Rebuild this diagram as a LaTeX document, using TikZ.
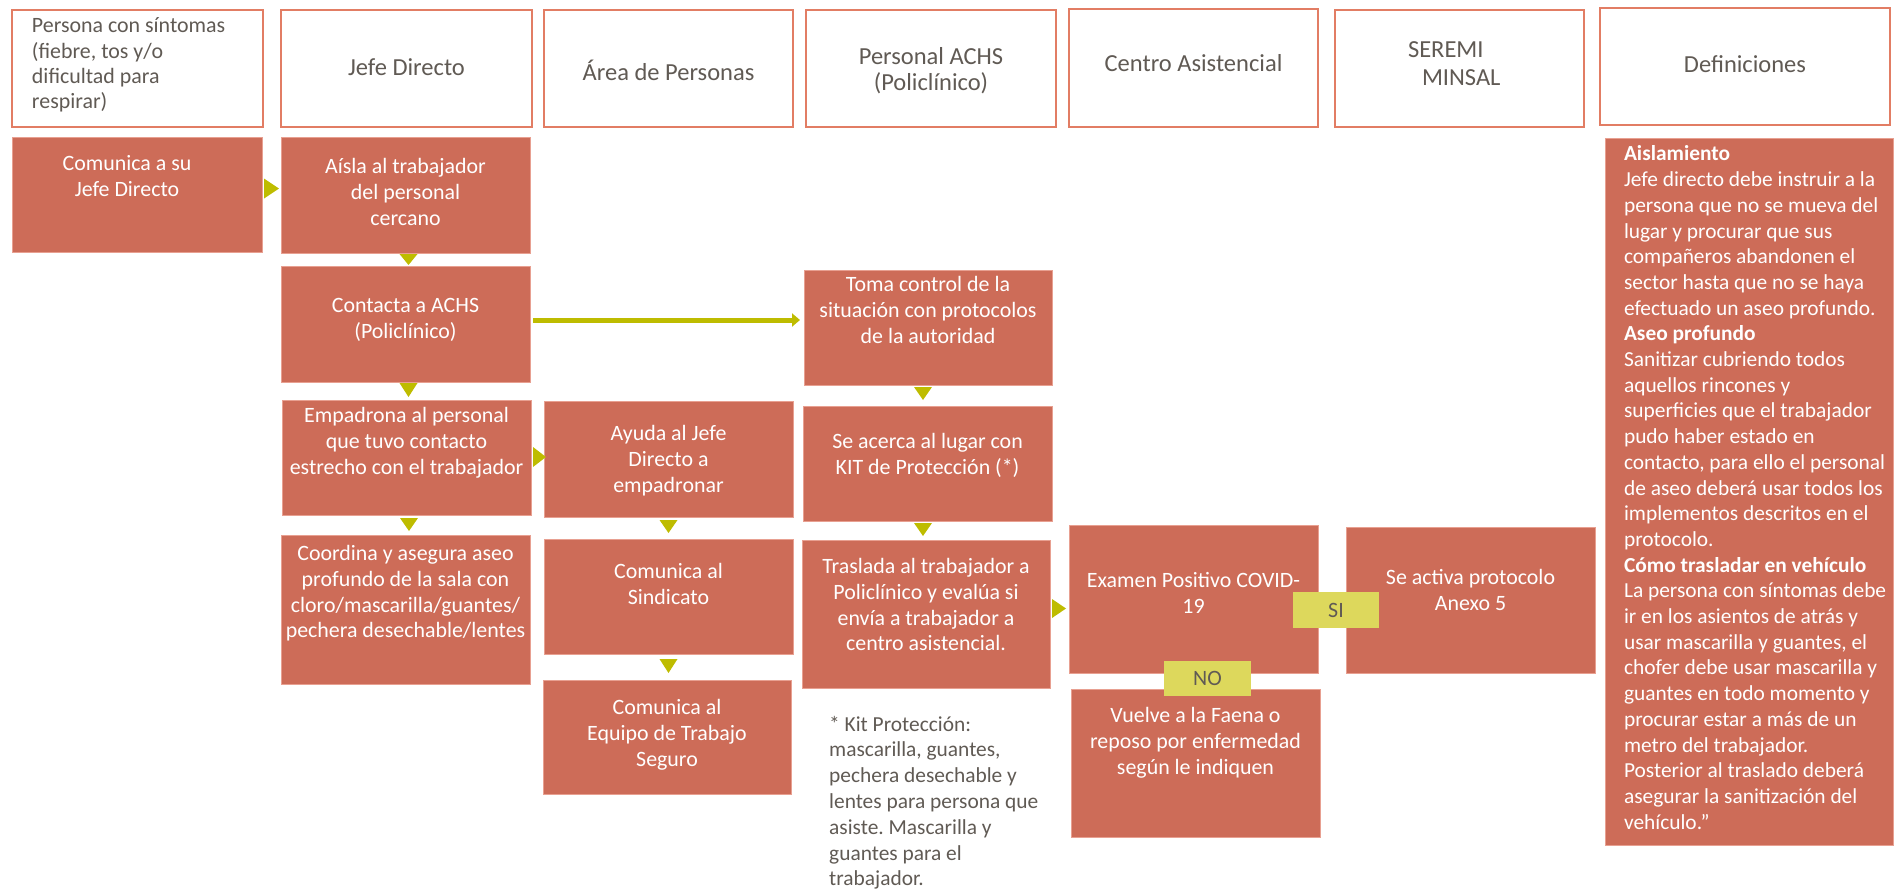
\documentclass[tikz,border=0pt]{standalone}
\usepackage{fontspec}
\setmainfont{Carlito}
\frenchspacing
\usetikzlibrary{calc,arrows.meta}
\definecolor{boxc}{RGB}{205,108,88}
\definecolor{hdrc}{RGB}{226,125,100}
\definecolor{txtg}{RGB}{96,90,84}
\definecolor{arrc}{RGB}{190,188,0}
\definecolor{lblc}{RGB}{221,216,92}
\definecolor{edgec}{RGB}{232,160,145}
\newcommand\fsA{\fontsize{21.9pt}{25.6pt}\selectfont}
\newcommand\fsD{\fontsize{21.4pt}{25.6pt}\selectfont}
\newcommand\fsH{\fontsize{24.5pt}{25pt}\selectfont}
\newcommand\bxt[4]{\parbox[c][#2pt][t]{#1pt}{\centering\vspace*{#3pt}\strut #4}}
\begin{document}
\begin{tikzpicture}[x=1pt,y=-1pt,
  hdr/.style={draw=hdrc, line width=1.4pt, fill=white, anchor=north west, inner sep=0pt, outer sep=0pt, text=txtg},
  fbx/.style={fill=boxc, draw=edgec, line width=0.6pt, anchor=north west, inner sep=0pt, outer sep=0pt, text=white, font=\fsA},
  lbl/.style={fill=lblc, anchor=north west, inner sep=0pt, outer sep=0pt, text=txtg, font=\fsA},
  tri/.style={fill=arrc},
  link/.style={draw=arrc, line width=5pt, -{Triangle[length=8pt,width=13pt]}}]
\useasboundingbox (0,0) rectangle (1900,889);

% headers
\node[hdr, font=\fsA] (h1) at (12,10) {\parbox[c][117pt][t]{251pt}{\raggedright\leftskip=20pt\baselineskip=25.3pt\vspace*{5pt}\strut Persona con síntomas\\(fiebre, tos y/o\\dificultad para\\respirar)}};
\node[hdr, font=\fsH] (h2) at (281,10) {\bxt{251}{117}{48}{Jefe Directo}};
\node[hdr, font=\fsH] (h3) at (544,10) {\bxt{249}{117}{50}{Área de Personas}};
\node[hdr, font=\fsH] (h4) at (806,10) {\bxt{250}{117}{37}{Personal ACHS\\(Policlínico)}};
\node[hdr, font=\fsH] (h5) at (1069,9) {\bxt{249}{118}{45}{Centro Asistencial}};
\node[hdr, font=\fsH] (h6) at (1335,10) {\parbox[c][117pt][t]{249pt}{\raggedright\baselineskip=28pt\vspace*{30pt}\strut\hspace*{73pt}SEREMI\\\hspace*{87pt}MINSAL}};
\node[hdr, font=\fsH] (h7) at (1600,8) {\bxt{290}{117}{47}{Definiciones}};

% process boxes
\node[fbx] (comunica) at (12,137) {\parbox[c][115pt][t]{250pt}{\centering\rightskip=20pt plus 1fil\vspace*{16pt}\strut Comunica a su\\Jefe Directo}};
\node[fbx] (aisla) at (281,137) {\bxt{249}{116}{19}{Aísla al trabajador\\del personal\\cercano}};
\node[fbx] (contacta) at (281,266) {\bxt{249}{116}{29}{Contacta a ACHS\\(Policlínico)}};
\node[fbx] (empadrona) at (282,400) {\bxt{249}{115}{5}{Empadrona al personal\\que tuvo contacto\\estrecho con el trabajador}};
\node[fbx] (coordina) at (281,535) {\bxt{249}{149}{8}{Coordina y asegura aseo\\profundo de la sala con\\cloro/mascarilla/guantes/\\pechera desechable/lentes}};
\node[fbx] (ayuda) at (544,401) {\bxt{249}{116}{22}{Ayuda al Jefe\\Directo a\\empadronar}};
\node[fbx] (sindicato) at (544,539) {\bxt{249}{115}{22}{Comunica al\\Sindicato}};
\node[fbx] (equipo) at (543,680) {\bxt{248}{114}{17}{Comunica al\\Equipo de Trabajo\\Seguro}};
\node[fbx] (toma) at (804,270) {\bxt{248}{115}{4}{Toma control de la\\situación con protocolos\\de la autoridad}};
\node[fbx] (seacerca) at (803,406) {\bxt{249}{115}{25}{Se acerca al lugar con\\KIT de Protección (*)}};
\node[fbx] (traslada) at (802,540) {\bxt{248}{148}{16}{Traslada al trabajador a\\Policlínico y evalúa si\\envía a trabajador a\\centro asistencial.}};
\node[fbx] (examen) at (1069,525) {\bxt{249}{148}{45}{Examen Positivo COVID-\\19}};
\node[fbx] (seactiva) at (1346,527) {\bxt{249}{146}{40}{Se activa protocolo\\Anexo 5}};
\node[fbx] (vuelve) at (1071,689) {\bxt{249}{148}{16}{Vuelve a la Faena o\\reposo por enfermedad\\según le indiquen}};
\node[fbx, font=\fsD] (defs) at (1605,138) {\parbox[c][707pt][t]{288pt}{\raggedright\leftskip=19pt\baselineskip=25.7pt\vspace*{5pt}\strut\textbf{Aislamiento}\\
Jefe directo debe instruir a la\\
persona que no se mueva del\\
lugar y procurar que sus\\
compañeros abandonen el\\
sector hasta que no se haya\\
efectuado un aseo profundo.\\
\textbf{Aseo profundo}\\
Sanitizar cubriendo todos\\
aquellos rincones y\\
superficies que el trabajador\\
pudo haber estado en\\
contacto, para ello el personal\\
de aseo deberá usar todos los\\
implementos descritos en el\\
protocolo.\\
\textbf{Cómo trasladar en vehículo}\\
La persona con síntomas debe\\
ir en los asientos de atrás y\\
usar mascarilla y guantes, el\\
chofer debe usar mascarilla y\\
guantes en todo momento y\\
procurar estar a más de un\\
metro del trabajador.\\
Posterior al traslado deberá\\
asegurar la sanitización del\\
vehículo.{\char34}}};

% labels
\node[lbl] (si) at (1293,592) {\parbox[c][36pt][c]{86pt}{\centering SI}};
\node[lbl] (no) at (1164,661) {\parbox[c][35pt][c]{87pt}{\centering NO}};

% footnote
\node[anchor=north west, inner sep=0pt, text=txtg, font=\fsD] (kit) at (829,713) {\parbox{250pt}{\raggedright\baselineskip=25.8pt\strut * Kit Protección:\\mascarilla, guantes,\\pechera desechable y\\lentes para persona que\\asiste. Mascarilla y\\guantes para el\\trabajador.}};

% connectors
\fill[tri] ($(comunica.east)+(2,-16)$) -- ($(comunica.east)+(2,4)$) -- ($(comunica.east)+(17,-6)$) -- cycle;
\fill[tri] ($(empadrona.east)+(2,-10.5)$) -- ($(empadrona.east)+(2,9.5)$) -- ($(empadrona.east)+(15,-0.5)$) -- cycle;
\fill[tri] ($(traslada.east)+(2,-15)$) -- ($(traslada.east)+(2,4)$) -- ($(traslada.east)+(16,-5.5)$) -- cycle;
\fill[tri] ($(aisla.south)+(-6,1)$) -- ($(aisla.south)+(12,1)$) -- ($(aisla.south)+(3,12)$) -- cycle;
\fill[tri] ($(contacta.south)+(-6,1)$) -- ($(contacta.south)+(12,1)$) -- ($(contacta.south)+(3,15)$) -- cycle;
\fill[tri] ($(empadrona.south)+(-6.5,3)$) -- ($(empadrona.south)+(11.5,3)$) -- ($(empadrona.south)+(2.5,16)$) -- cycle;
\fill[tri] ($(toma.south)+(-14,2)$) -- ($(toma.south)+(4,2)$) -- ($(toma.south)+(-5,15)$) -- cycle;
\fill[tri] ($(seacerca.south)+(-13.5,2)$) -- ($(seacerca.south)+(4.5,2)$) -- ($(seacerca.south)+(-4.5,15)$) -- cycle;
\fill[tri] ($(ayuda.south)+(-9,3)$) -- ($(ayuda.south)+(9,3)$) -- ($(ayuda.south)+(0,16)$) -- cycle;
\fill[tri] ($(sindicato.south)+(-9,5)$) -- ($(sindicato.south)+(9,5)$) -- ($(sindicato.south)+(0,19)$) -- cycle;
\draw[link] ($(contacta.east)+(3,-4)$) -- ($(toma.west)+(-4,-7.5)$);
\end{tikzpicture}
\end{document}
